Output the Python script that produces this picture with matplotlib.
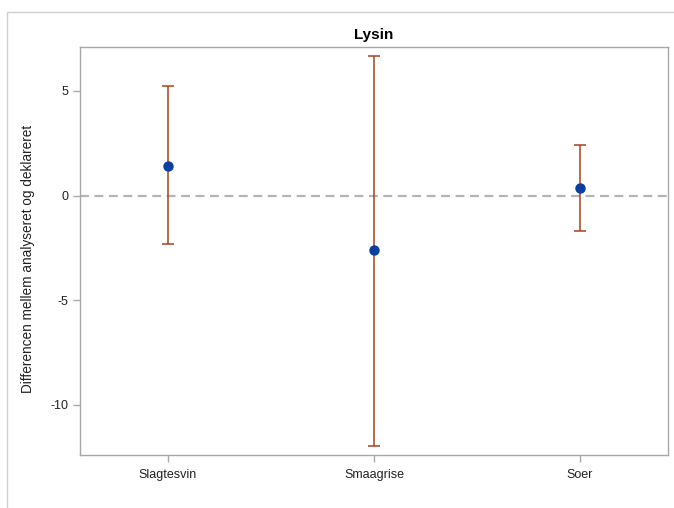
import matplotlib
matplotlib.use("Agg")
import matplotlib.pyplot as plt
from matplotlib.patches import Rectangle

plt.rcParams['font.family'] = ['Liberation Sans', 'DejaVu Sans']

categories = ["Slagtesvin", "Smaagrise", "Soer"]
mean_diff = [1.43, -2.62, 0.38]
lower = [-2.33, -11.95, -1.67]
upper = [5.22, 6.68, 2.44]

fig = plt.figure(figsize=(6.74, 5.08), dpi=100)
ax = fig.add_axes([80/674, 53/508, 588/674, 408/508])

# light frame around the graph area
fig.patches.append(Rectangle((7/674, -0.1), 1.2, (508-12)/508 + 0.1,
                             transform=fig.transFigure, fill=False,
                             edgecolor="#D0D0D0", linewidth=1.0))

x = list(range(len(categories)))
yerr = [[m - lo for m, lo in zip(mean_diff, lower)],
        [hi - m for m, hi in zip(mean_diff, upper)]]

ax.axhline(0, color="#B4B4B8", linestyle=(0, (4, 2.5)), linewidth=1.6, zorder=1)
ax.errorbar(x, mean_diff, yerr=yerr, fmt="none", ecolor="#A8421E",
            elinewidth=1.1, capsize=4, capthick=1.1, zorder=2)
ax.plot(x, mean_diff, "o", color="#0A3FA0", markersize=6.5, zorder=3)

ax.set_xlim(-0.427, 2.427)
ax.set_ylim(-12.39, 7.10)
ax.set_xticks(x)
ax.set_xticklabels(categories)
ax.set_yticks([-10, -5, 0, 5])
ax.set_yticklabels(["-10", "-5", "0", "5"])

for s in ax.spines.values():
    s.set_color("#A8A8A8")
    s.set_linewidth(1.0)
ax.tick_params(axis="both", colors="#A8A8A8", labelcolor="#222222",
               labelsize=9, length=5, width=1.0)
ax.tick_params(axis="x", pad=5)

ax.set_title("Lysin", fontsize=11, fontweight="bold", pad=6)
ax.set_ylabel("Differencen mellem analyseret og deklareret", fontsize=9.8,
              color="#222222")
ax.yaxis.set_label_coords(-0.077, 0.48)

fig.savefig("out.png", dpi=100)
